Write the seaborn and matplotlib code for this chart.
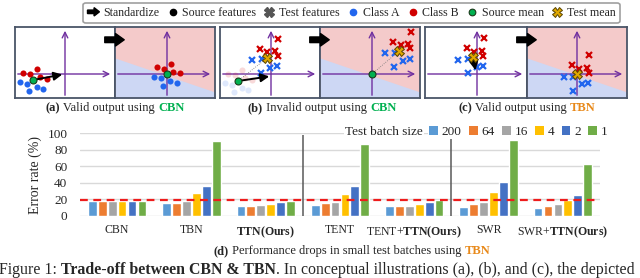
import numpy as np
import pandas as pd
import matplotlib
matplotlib.use("Agg")
import matplotlib.pyplot as plt
import seaborn as sns
from matplotlib.patches import FancyArrow, FancyArrowPatch, Patch
from matplotlib.legend_handler import HandlerPatch
from matplotlib.lines import Line2D

# ---------------- data: bar chart ----------------
methods = ["CBN", "TBN", "TTN(Ours)", "TENT", "TENT+TTN(Ours)", "SWR", "SWR+TTN(Ours)"]
tick_labels = ["CBN", "TBN", r"$\mathbf{TTN(Ours)}$", "TENT",
               r"TENT+$\mathbf{TTN(Ours)}$", "SWR", r"SWR+$\mathbf{TTN(Ours)}$"]
batch_sizes = ["200", "64", "16", "4", "2", "1"]
err_200 = [18.5, 15.3, 12.0, 12.8, 11.6, 10.4, 10.0]
err_64 = [18.6, 15.7, 12.0, 15.2, 11.6, 14.0, 12.0]
err_16 = [18.6, 17.7, 12.8, 17.2, 12.0, 17.2, 14.0]
err_4 = [18.6, 27.3, 14.4, 26.4, 14.4, 28.4, 18.8]
err_2 = [18.6, 36.5, 16.4, 36.0, 16.4, 40.8, 24.8]
err_1 = [18.6, 90.7, 18.4, 86.3, 18.8, 91.0, 62.4]
cbn_reference = 19.5
y_ticks = [0, 20, 40, 60, 80, 100]

# ---------------- data: conceptual illustrations (feature space) ----------------
a_src_red_x, a_src_red_y = [-42, -35, -28, -25, -18], [1, 0, 5, -3, -5]
a_src_blue_x, a_src_blue_y = [-45, -38, -28, -22, -36], [-8, -10, -13, -15, -17]
a_src_mean = (-32, -6)
a_std_red_x, a_std_red_y = [-10, -3, 4, 6, 13], [7, 5, 10, 2, 1]
a_std_blue_x, a_std_blue_y = [-13, -6, 3, 10, -4], [-3, -4, -7, -9, -12]

b_src_red_x, b_src_red_y = [-43, -36, -29, -26, -19], [0, -1, 4, -4, -6]
b_src_blue_x, b_src_blue_y = [-46, -39, -29, -23, -37], [-9, -11, -14, -16, -18]
b_src_mean = (-33, -7)
b_test_red_x, b_test_red_y = [7, -11, -4, 4, 7], [35, 25, 22, 23, 18]
b_test_blue_x, b_test_blue_y = [-19, -9, -1, 6, -10], [14, 15, 6, 8, 1]
b_test_mean = (-4, 16)
b_std_red_x, b_std_red_y = [39, 21, 29, 36, 38], [42, 32, 29, 30, 26]
b_std_blue_x, b_std_blue_y = [13, 23, 31, 38, 22], [21, 21, 13, 15, 7]
b_std_test_mean = (27, 23)

c_test_red_x, c_test_red_y = [7, -10, -3, 5, 6], [36, 26, 22, 23, 18]
c_test_blue_x, c_test_blue_y = [-19, -9, 0, 6, -9], [14, 15, 7, 8, 1]
c_test_mean = (-4, 17)
c_std_red_x, c_std_red_y = [12, -5, 2, 10, 12], [19, 9, 5, 6, 1]
c_std_blue_x, c_std_blue_y = [-13, -4, 5, 11, -4], [-3, -3, -10, -9, -17]

boundary_y_left, boundary_y_right = 16, -18   # decision boundary (edge heights)

# ---------------- style ----------------
bar_colors = ["#5B9BD5", "#ED7D31", "#A5A5A5", "#FFC000", "#4472C4", "#70AD47"]
PURPLE = "#7030A0"
RED = "#D00000"
BLUE = "#2266EE"
GREEN = "#00B050"
GOLD = "#E0A800"
ORANGE = "#E8891A"
PINK_BG = "#F4CACA"
BLUE_BG = "#CDD7F4"
BOX_EDGE = "#4A5568"

sns.set_style("white")
plt.rcParams["font.family"] = ["Liberation Serif", "DejaVu Serif"]
plt.rcParams["mathtext.fontset"] = "custom"
plt.rcParams["mathtext.rm"] = "Liberation Serif"
plt.rcParams["mathtext.bf"] = "Liberation Serif:bold"
plt.rcParams["mathtext.it"] = "Liberation Serif:italic"

W, H = 640, 278
fig = plt.figure(figsize=(W / 100, H / 100), dpi=100)


def px_axes(x0, y0, x1, y1):
    return fig.add_axes([x0 / W, 1 - y1 / H, (x1 - x0) / W, (y1 - y0) / H])


def rich(x, y, pieces, size, ha="center"):
    r = fig.canvas.get_renderer()

    def width(s, kw):
        t1 = fig.text(0, 0, "|" + s + "|", fontsize=size, **kw)
        t2 = fig.text(0, 0, "||", fontsize=size, **kw)
        w = t1.get_window_extent(r).width - t2.get_window_extent(r).width
        t1.remove()
        t2.remove()
        return w

    widths = [width(s, kw) for s, kw in pieces]
    cur = x - sum(widths) / 2 if ha == "center" else x
    for (s, kw), w in zip(pieces, widths):
        fig.text(cur / W, 1 - y / H, s, fontsize=size, ha="left", va="baseline", **kw)
        cur += w


# ---------------- illustration boxes ----------------
YLIM = (-24, 47)
box_specs = [  # (x0, x1, xlim)
    (15, 115, (-50, 50)), (115, 215, (-52, 48)),
    (220, 320, (-51, 49)), (320, 420, (-52, 48)),
    (425, 527, (-52, 50)), (527, 627, (-50, 50)),
]
axs = []
for i, (x0, x1, xl) in enumerate(box_specs):
    a = px_axes(x0, 27, x1, 98)
    a.set_xlim(*xl)
    a.set_ylim(*YLIM)
    a.set_xticks([])
    a.set_yticks([])
    for s in a.spines.values():
        s.set_color(BOX_EDGE)
        s.set_linewidth(1.3)
    if i % 2 == 1:
        a.set_facecolor(PINK_BG)
        xs = np.array(xl, dtype=float)
        by = np.interp(xs, xl, [boundary_y_left, boundary_y_right])
        a.fill_between(xs, YLIM[0], by, color=BLUE_BG, lw=0, zorder=0)
    a.annotate("", xy=(xl[1] - 2, 0), xytext=(xl[0], 0),
               arrowprops=dict(arrowstyle="->", color=PURPLE, lw=1.0), zorder=1)
    a.annotate("", xy=(0, YLIM[1] - 1), xytext=(0, YLIM[0]),
               arrowprops=dict(arrowstyle="->", color=PURPLE, lw=1.0), zorder=1)
    axs.append(a)

dot = dict(marker="o", ls="none", ms=4.4, mew=0, zorder=3)
xm = dict(marker="x", ls="none", ms=4.2, mew=1.6, zorder=3)
mean_src = dict(marker="o", ls="none", ms=5, mfc=GREEN, mec="#1a3a1a", mew=0.8, zorder=5)
mean_tst = dict(marker="X", ls="none", ms=7, mfc=GOLD, mec="#5a4500", mew=0.7, zorder=5)
black_arrow = dict(arrowstyle="-|>,head_length=0.5,head_width=0.25", color="black", lw=1.4)

# (a) left
ax = axs[0]
ax.plot(a_src_red_x, a_src_red_y, color=RED, **dot)
ax.plot(a_src_blue_x, a_src_blue_y, color=BLUE, **dot)
ax.annotate("", xy=(0, 0), xytext=a_src_mean, arrowprops=black_arrow, zorder=4)
ax.plot(*a_src_mean, **mean_src)
# (a) right
ax = axs[1]
ax.plot(a_std_red_x, a_std_red_y, color=RED, **dot)
ax.plot(a_std_blue_x, a_std_blue_y, color=BLUE, **dot)
ax.plot(0, 0, **mean_src)
# (b) left
ax = axs[2]
ax.plot(b_src_red_x, b_src_red_y, color=RED, alpha=0.15, **dot)
ax.plot(b_src_blue_x, b_src_blue_y, color=BLUE, alpha=0.15, **dot)
ax.plot([b_src_mean[0], b_test_mean[0]], [b_src_mean[1], b_test_mean[1]],
        color="#777777", lw=0.6, ls=":", zorder=2)
ax.plot(b_test_red_x, b_test_red_y, color=RED, **xm)
ax.plot(b_test_blue_x, b_test_blue_y, color=BLUE, **xm)
ax.annotate("", xy=(1, -2), xytext=b_src_mean, arrowprops=black_arrow, zorder=4)
ax.plot(*b_src_mean, **mean_src)
ax.plot(*b_test_mean, **mean_tst)
# (b) right
ax = axs[3]
ax.plot([0, b_std_test_mean[0]], [0, b_std_test_mean[1]], color="#777777", lw=0.6, ls=":", zorder=2)
ax.plot(b_std_red_x, b_std_red_y, color=RED, **xm)
ax.plot(b_std_blue_x, b_std_blue_y, color=BLUE, **xm)
ax.plot(0, 0, **mean_src)
ax.plot(*b_std_test_mean, **mean_tst)
# (c) left
ax = axs[4]
ax.plot(c_test_red_x, c_test_red_y, color=RED, **xm)
ax.plot(c_test_blue_x, c_test_blue_y, color=BLUE, **xm)
ax.annotate("", xy=(-1, 1), xytext=c_test_mean, arrowprops=black_arrow, zorder=4)
ax.plot(*c_test_mean, **mean_tst)
# (c) right
ax = axs[5]
ax.plot(c_std_red_x, c_std_red_y, color=RED, **xm)
ax.plot(c_std_blue_x, c_std_blue_y, color=BLUE, **xm)
ax.plot(0, 0, **mean_tst)

# big "standardize" arrows crossing the box pairs
for a in (axs[1], axs[3], axs[5]):
    arr = FancyArrowPatch((-0.13, 0.82), (0.12, 0.82), transform=a.transAxes,
                          arrowstyle="simple,head_length=0.7,head_width=1.0,tail_width=0.45",
                          mutation_scale=9, fc="black", ec="black", clip_on=False, zorder=10)
    a.add_artist(arr)

bold = dict(fontweight="bold")
rich(115, 111, [("(a)", bold), (" Valid output using ", {}), ("CBN", dict(fontweight="bold", color=GREEN))], 9)
rich(322, 111, [("(b)", bold), (" Invalid output using ", {}), ("CBN", dict(fontweight="bold", color=GREEN))], 9)
rich(527, 111, [("(c)", bold), (" Valid output using ", {}), ("TBN", dict(fontweight="bold", color=ORANGE))], 9)

# ---------------- top legend ----------------
def make_arrow(legend, orig_handle, xdescent, ydescent, width, height, fontsize):
    return FancyArrow(0, 0.5 * height, width, 0, length_includes_head=True,
                      head_width=1.0 * height, head_length=0.45 * width, width=0.42 * height,
                      color="black")


top_handles = [
    FancyArrow(0, 0, 1, 0, color="black"),
    Line2D([], [], marker="o", ls="none", color="black", ms=4.5),
    Line2D([], [], marker="X", ls="none", color="#555555", ms=7),
    Line2D([], [], marker="o", ls="none", color=BLUE, ms=4.5),
    Line2D([], [], marker="o", ls="none", color=RED, ms=4.5),
    Line2D([], [], marker="o", ls="none", mfc=GREEN, mec="#1a3a1a", mew=0.8, ms=4.8),
    Line2D([], [], marker="X", ls="none", mfc=GOLD, mec="#5a4500", mew=0.7, ms=7),
]
top_labels = ["Standardize", "Source features", "Test features", "Class A", "Class B",
              "Source mean", "Test mean"]
leg = fig.legend(top_handles, top_labels, loc="center",
                 bbox_to_anchor=((79 + 624) / 2 / W, 1 - 13 / H), ncol=7, fontsize=8.6,
                 handler_map={FancyArrow: HandlerPatch(patch_func=make_arrow)},
                 handlelength=1.0, handletextpad=0.3, columnspacing=0.62,
                 frameon=True, fancybox=True, edgecolor="#888888", borderpad=0.35,
                 borderaxespad=0)
leg.get_frame().set_linewidth(1.2)

# ---------------- bar chart ----------------
rows = []
for b, vals in zip(batch_sizes, [err_200, err_64, err_16, err_4, err_2, err_1]):
    for m, v in zip(methods, vals):
        rows.append({"Method": m, "Batch size": b, "Error": v})
df = pd.DataFrame(rows)

bx = px_axes(80, 133, 600, 216)
sns.barplot(data=df, x="Method", y="Error", hue="Batch size", order=methods,
            hue_order=batch_sizes, palette=bar_colors, saturation=1,
            width=0.8, gap=0.12, ax=bx, legend=False, zorder=3)
bx.set_xlim(-0.5, len(methods) - 0.5)
bx.set_ylim(0, 100)
bx.set_yticks(y_ticks)
bx.grid(axis="y", color="#D9D9D9", lw=1)
bx.grid(axis="x", visible=False)
bx.set_axisbelow(True)
for s in bx.spines.values():
    s.set_visible(False)
bx.tick_params(axis="y", length=0, pad=9, labelsize=9.5)
bx.tick_params(axis="x", length=0, pad=6, labelsize=8.5)
bx.set_xticks(range(len(methods)))
bx.set_xticklabels(tick_labels)
bx.set_xlabel("")
bx.set_ylabel("Error rate (%)", fontsize=10, labelpad=4)
bx.axhline(cbn_reference, color="#EE1C1C", ls=(0, (3.5, 2.5)), lw=1.6, zorder=4)
bx.vlines([2.5, 4.5], 0, 97, color="#595959", lw=1.1, zorder=2, clip_on=False)

bar_handles = [Patch(facecolor=c, edgecolor="none") for c in bar_colors]
bleg = bx.legend(bar_handles, batch_sizes, loc="center left",
                 bbox_to_anchor=(428 / W, 1 - 132 / H), bbox_transform=fig.transFigure,
                 ncol=6, fontsize=9.5, handlelength=0.65, handleheight=0.65,
                 handletextpad=0.3, columnspacing=0.55, frameon=True, borderpad=0.1,
                 borderaxespad=0)
bleg.get_frame().set_edgecolor("none")
bleg.get_frame().set_facecolor("white")
bleg.get_frame().set_alpha(1)
fig.text(423 / W, 1 - 132 / H, "Test batch size", fontsize=9.5, ha="right", va="center",
         bbox=dict(facecolor="white", edgecolor="none", pad=1))

rich(352, 254, [("(d)", bold), (" Performance drops in small test batches using ", {}),
                ("TBN", dict(fontweight="bold", color=ORANGE))], 9)

rich(-1, 274, [("Figure 1: ", {}), ("Trade-off between CBN & TBN", bold),
               (". In conceptual illustrations (a), (b), and (c), the depicted", {})], 11.4, ha="left")

fig.savefig("out.png", dpi=100)
